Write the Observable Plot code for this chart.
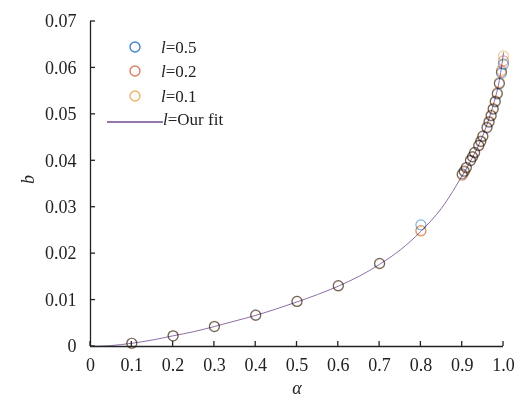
<!DOCTYPE html>
<html>
<head>
<meta charset="utf-8">
<script src="https://cdn.jsdelivr.net/npm/d3@7"></script>
<script src="https://cdn.jsdelivr.net/npm/@observablehq/plot@0.6"></script>
<style>
  html, body { margin: 0; padding: 0; background: #fff; }
  #wrap { position: relative; width: 526px; height: 408px; }
  #legend { position: absolute; left: 0; top: 0; font-family: "Times New Roman", "Liberation Serif", "DejaVu Serif", serif; font-size: 17px; color: #222; }
  .row { position: absolute; white-space: nowrap; }
  svg text { font-family: "Times New Roman", "Liberation Serif", "DejaVu Serif", serif; }
</style>
</head>
<body>
<div id="wrap"><div id="legend"></div></div>
<script>
// ---- data ----
const seriesNames = ["l=0.5", "l=0.2", "l=0.1"];
const seriesColors = ["#3f86c8", "#dc7f68", "#e7b766"];
const fitName = "l=Our fit";
const fitColor = "#6e4a8e";

const alphaPts = [0.1,0.2,0.3,0.4,0.5,0.6,0.7,0.8,0.90,0.905,0.91,0.92,0.925,0.93,0.94,0.945,0.95,0.96,0.965,0.97,0.975,0.98,0.985,0.99,0.995,1.0];
const b_l05 = [0.0007,0.0023,0.0043,0.0068,0.0097,0.0131,0.0179,0.0262,0.0372,0.0378,0.0386,0.0401,0.0409,0.0418,0.0433,0.0442,0.0453,0.0471,0.0483,0.0497,0.0511,0.0527,0.0544,0.0566,0.0589,0.0608];
const b_l02 = [0.0007,0.0023,0.0043,0.0067,0.0097,0.0131,0.0179,0.0250,0.0369,0.0376,0.0384,0.0400,0.0408,0.0417,0.0432,0.0441,0.0452,0.0472,0.0484,0.0497,0.0512,0.0528,0.0545,0.0567,0.0592,0.0615];
const b_l01 = [0.0007,0.0023,0.0044,0.0067,0.0097,0.0130,0.0178,0.0248,0.0371,0.0378,0.0385,0.0401,0.0409,0.0418,0.0433,0.0443,0.0454,0.0473,0.0485,0.0499,0.0513,0.0529,0.0547,0.0569,0.0595,0.0626];

const alphaFit = [0,0.05,0.1,0.15,0.2,0.25,0.3,0.35,0.4,0.45,0.5,0.55,0.6,0.65,0.7,0.75,0.8,0.85,0.9,0.92,0.94,0.96,0.98,0.99,1.0];
const bFit = [0,0.0002,0.0007,0.0014,0.0023,0.0032,0.0043,0.0055,0.0067,0.0081,0.0096,0.0112,0.0130,0.0151,0.0177,0.0208,0.0248,0.0298,0.0368,0.0399,0.0434,0.0478,0.0535,0.0573,0.0633];

const xTicks = [0,0.1,0.2,0.3,0.4,0.5,0.6,0.7,0.8,0.9,1.0];
const xTickLabels = ["0","0.1","0.2","0.3","0.4","0.5","0.6","0.7","0.8","0.9","1.0"];
const yTicks = [0,0.01,0.02,0.03,0.04,0.05,0.06,0.07];
const yTickLabels = ["0","0.01","0.02","0.03","0.04","0.05","0.06","0.07"];

// ---- build tables ----
const seriesVals = [b_l05, b_l02, b_l01];
const pts = [];
[2,1,0].forEach(si => {
  alphaPts.forEach((a, i) => pts.push({a, b: seriesVals[si][i], s: seriesNames[si]}));
});
const fit = alphaFit.map((a, i) => ({a, b: bFit[i]}));

const font = "'Times New Roman', 'Liberation Serif', 'DejaVu Serif', serif";
const plot = Plot.plot({
  width: 526,
  height: 408,
  marginLeft: 90,
  marginRight: 23,
  marginTop: 21,
  marginBottom: 62,
  style: {fontFamily: font, fontSize: "18px", color: "#222", background: "transparent"},
  x: {type: "linear", domain: [0, 1.0]},
  y: {type: "linear", domain: [0, 0.07]},
  color: {domain: seriesNames, range: seriesColors},
  marks: [
    Plot.line(fit, {x: "a", y: "b", stroke: fitColor, strokeWidth: 1, curve: "catmull-rom", strokeOpacity: 0.8}),
    Plot.dot(pts, {x: "a", y: "b", stroke: "s", r: 5, strokeWidth: 1.2, strokeOpacity: 0.65, mixBlendMode: "multiply"}),
    Plot.ruleX([0], {stroke: "#222", strokeWidth: 1.3}),
    Plot.ruleY([0], {stroke: "#222", strokeWidth: 1.3}),
    Plot.axisX({ticks: xTicks, tickSize: 0, tickPadding: 12, tickFormat: (d, i) => xTickLabels[i], label: null, fontSize: 18, fontFamily: font}),
    Plot.axisY({ticks: yTicks, tickSize: 0, tickPadding: 14, tickFormat: (d, i) => yTickLabels[i], label: null, fontSize: 18, fontFamily: font}),
    Plot.text(["α"], {frameAnchor: "bottom", dy: 47, fontStyle: "italic", fontSize: 18, fontFamily: font}),
    Plot.text(["b"], {frameAnchor: "left", dx: -62, rotate: -90, fontStyle: "italic", fontSize: 18, fontFamily: font})
  ]
});
document.getElementById("wrap").prepend(plot);

// inward tick marks placed through the plot's own scales
const sx = plot.scale("x"), sy = plot.scale("y");
const ns = "http://www.w3.org/2000/svg";
const g = document.createElementNS(ns, "g");
g.setAttribute("stroke", "#222");
g.setAttribute("stroke-width", "1.3");
const x0 = sx.apply(0), y0 = sy.apply(0);
xTicks.forEach(t => {
  const l = document.createElementNS(ns, "line");
  const x = sx.apply(t);
  l.setAttribute("x1", x); l.setAttribute("x2", x);
  l.setAttribute("y1", y0); l.setAttribute("y2", y0 - 5);
  g.appendChild(l);
});
yTicks.forEach(t => {
  const l = document.createElementNS(ns, "line");
  const y = sy.apply(t);
  l.setAttribute("x1", x0); l.setAttribute("x2", x0 + 5);
  l.setAttribute("y1", y); l.setAttribute("y2", y);
  g.appendChild(l);
});
plot.appendChild(g);

// ---- legend ----
const legend = document.getElementById("legend");
const rows = [49, 73, 98];
seriesNames.forEach((name, i) => {
  const row = document.createElement("div");
  row.className = "row";
  row.style.left = "128px";
  row.style.top = (rows[i] - 11) + "px";
  const [l, rest] = name.split("=");
  row.innerHTML = `<svg width="16" height="16" style="vertical-align:-2px"><circle cx="7" cy="8" r="5" fill="none" stroke="${seriesColors[i]}" stroke-width="1.4"/></svg><span style="margin-left:17px"><i>${l}</i>=${rest}</span>`;
  legend.appendChild(row);
});
const frow = document.createElement("div");
frow.className = "row";
frow.style.left = "107px";
frow.style.top = (121 - 11) + "px";
const [fl, frest] = fitName.split("=");
frow.innerHTML = `<svg width="56" height="16" style="vertical-align:-2px"><line x1="0" x2="56" y1="11" y2="11" stroke="${fitColor}" stroke-width="1.5"/></svg><span><i>${fl}</i>=${frest}</span>`;
legend.appendChild(frow);
</script>
</body>
</html>
